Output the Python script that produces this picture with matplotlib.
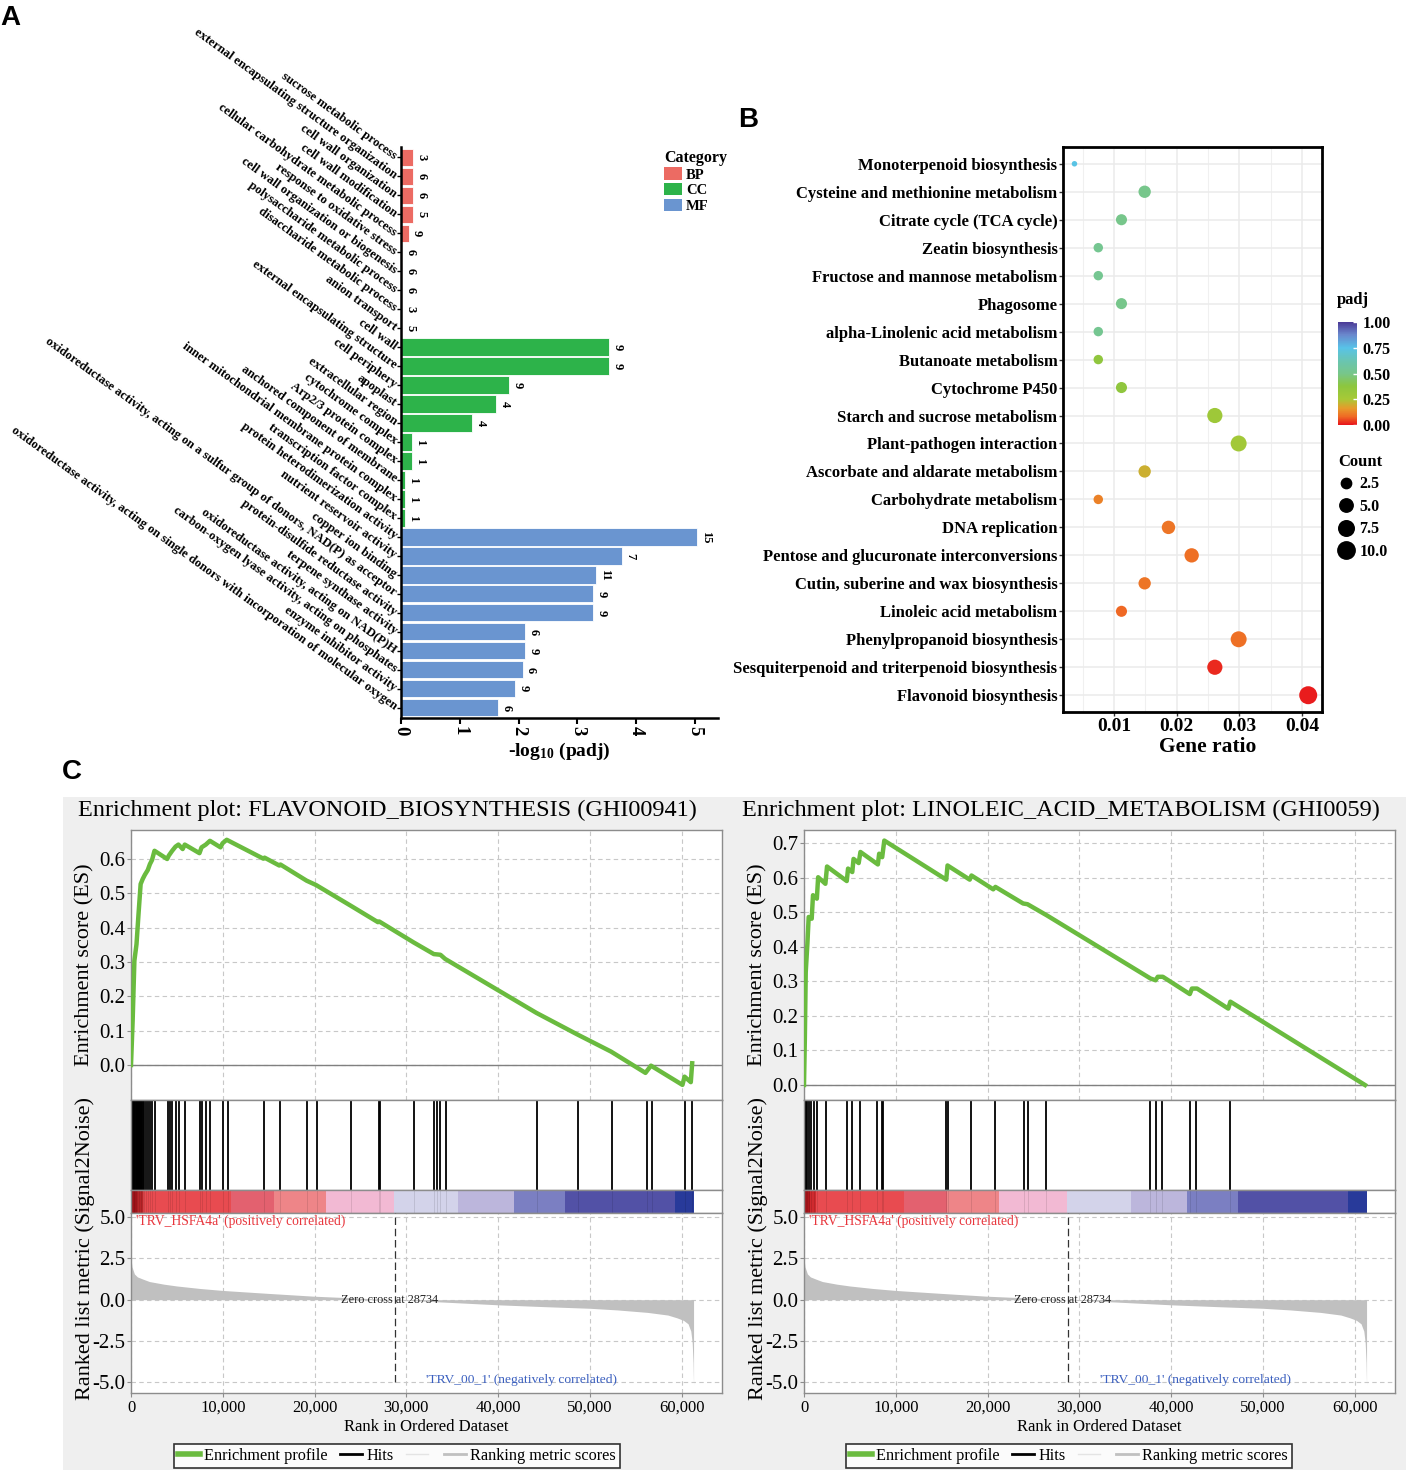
import matplotlib
matplotlib.use('Agg')
import matplotlib.pyplot as plt
import numpy as np
from matplotlib.patches import Patch, Rectangle
from matplotlib.lines import Line2D
from matplotlib.colors import LinearSegmentedColormap

W, H = 1406, 1472
plt.rcParams['font.family'] = ['Liberation Serif', 'DejaVu Serif']
plt.rcParams['mathtext.fontset'] = 'custom'
plt.rcParams['mathtext.rm'] = 'Liberation Serif:bold'
plt.rcParams['mathtext.default'] = 'rm'
plt.rcParams['axes.unicode_minus'] = False

# ---------------- data: panel A (GO enrichment) ----------------
bp_terms = ['sucrose metabolic process', 'external encapsulating structure organization',
            'cell wall organization', 'cell wall modification',
            'cellular carbohydrate metabolic process', 'response to oxidative stress',
            'cell wall organization or biogenesis', 'polysaccharide metabolic process',
            'disaccharide metabolic process', 'anion transport']
bp_logp = [0.21, 0.21, 0.21, 0.21, 0.13, 0.02, 0.02, 0.02, 0.02, 0.02]
bp_count = [3, 6, 6, 5, 9, 6, 6, 6, 3, 5]

cc_terms = ['cell wall', 'external encapsulating structure', 'cell periphery', 'apoplast',
            'extracellular region', 'cytochrome complex', 'Arp2/3 protein complex',
            'anchored component of membrane', 'inner mitochondrial membrane protein complex',
            'transcription factor complex']
cc_logp = [3.54, 3.54, 1.84, 1.62, 1.21, 0.18, 0.18, 0.07, 0.07, 0.07]
cc_count = [9, 9, 9, 4, 4, 1, 1, 1, 1, 1]

mf_terms = ['protein heterodimerization activity', 'nutrient reservoir activity',
            'copper ion binding',
            'oxidoreductase activity, acting on a sulfur group of donors, NAD(P) as acceptor',
            'protein-disulfide reductase activity', 'terpene synthase activity',
            'oxidoreductase activity, acting on NAD(P)H',
            'carbon-oxygen lyase activity, acting on phosphates',
            'enzyme inhibitor activity',
            'oxidoreductase activity, acting on single donors with incorporation of molecular oxygen']
mf_logp = [5.04, 3.75, 3.32, 3.27, 3.27, 2.11, 2.11, 2.07, 1.94, 1.65]
mf_count = [15, 7, 11, 9, 9, 6, 9, 6, 9, 6]

categories = ['BP', 'CC', 'MF']
cat_colors = {'BP': '#ec6b63', 'CC': '#2db34a', 'MF': '#6a95d0'}

# ---------------- data: panel B (KEGG dot plot) ----------------
kegg_terms = ['Monoterpenoid biosynthesis', 'Cysteine and methionine metabolism',
              'Citrate cycle (TCA cycle)', 'Zeatin biosynthesis',
              'Fructose and mannose metabolism', 'Phagosome',
              'alpha-Linolenic acid metabolism', 'Butanoate metabolism', 'Cytochrome P450',
              'Starch and sucrose metabolism', 'Plant-pathogen interaction',
              'Ascorbate and aldarate metabolism', 'Carbohydrate metabolism', 'DNA replication',
              'Pentose and glucuronate interconversions', 'Cutin, suberine and wax biosynthesis',
              'Linoleic acid metabolism', 'Phenylpropanoid biosynthesis',
              'Sesquiterpenoid and triterpenoid biosynthesis', 'Flavonoid biosynthesis']
gene_ratio = [0.0037, 0.0149, 0.0112, 0.0075, 0.0075, 0.0112, 0.0075, 0.0075, 0.0112, 0.0261,
              0.0299, 0.0149, 0.0075, 0.0187, 0.0224, 0.0149, 0.0112, 0.0299, 0.0261, 0.0410]
kegg_count = [1, 4, 3, 2, 2, 3, 2, 2, 3, 7, 8, 4, 2, 5, 6, 4, 3, 8, 7, 11]
kegg_padj = [0.74, 0.50, 0.50, 0.52, 0.52, 0.50, 0.52, 0.36, 0.36, 0.30,
             0.28, 0.20, 0.12, 0.10, 0.09, 0.10, 0.08, 0.09, 0.02, 0.01]
count_legend = [2.5, 5.0, 7.5, 10.0]

# ---------------- data: panel C (GSEA) ----------------
flav_es_rank = [0, 180, 370, 600, 820, 1050, 1280, 1510, 1830, 2060, 2290, 2560, 3940, 4120,
                4490, 4850, 5170, 5630, 5860, 7460, 7690, 8150, 8600, 9750, 9980, 10430, 14420,
                14550, 16160, 16280, 19130, 20180, 23940, 26910, 27050, 30800, 33000, 33390,
                33720, 34230, 44160, 48560, 52310, 56060, 56660, 60090, 60320, 61000, 61150]
flav_es = [0.0, 0.129, 0.304, 0.352, 0.44, 0.527, 0.542, 0.554, 0.568, 0.585, 0.597, 0.624,
           0.600, 0.61, 0.624, 0.636, 0.642, 0.629, 0.642, 0.617, 0.634, 0.642, 0.653, 0.634,
           0.646, 0.656, 0.601, 0.604, 0.581, 0.584, 0.537, 0.524, 0.464, 0.416, 0.418, 0.357,
           0.323, 0.322, 0.321, 0.309, 0.152, 0.09, 0.039, -0.023, -0.002, -0.058, -0.034,
           -0.05, 0.005]
flav_hits = [40, 120, 200, 280, 370, 450, 530, 600, 680, 760, 830, 900, 980, 1050, 1130, 1200,
             1280, 1420, 1600, 1830, 2060, 2290, 2570, 4040, 4270, 4500, 4860, 5180, 5870,
             7480, 7710, 8170, 8620, 10000, 10550, 14450, 16280, 19170, 20230, 24000, 26970,
             27110, 30870, 33070, 33390, 33720, 34310, 44270, 48670, 52430, 56240, 56790,
             60370, 61150]

lin_es_rank = [0, 90, 190, 370, 510, 840, 980, 1400, 1540, 2330, 2510, 4660, 4800, 5260, 5400,
               5960, 6150, 8050, 8190, 8520, 8750, 15500, 15640, 18060, 18250, 20620, 20860,
               23880, 24350, 26440, 37760, 38310, 38550, 39100, 42040, 42270, 42830, 46230,
               46460, 61130]
lin_es = [0.0, 0.13, 0.327, 0.409, 0.486, 0.481, 0.549, 0.539, 0.601, 0.582, 0.632, 0.59,
          0.626, 0.616, 0.654, 0.642, 0.674, 0.638, 0.669, 0.659, 0.707, 0.594, 0.635, 0.594,
          0.606, 0.566, 0.573, 0.525, 0.523, 0.491, 0.308, 0.303, 0.313, 0.313, 0.263, 0.279,
          0.279, 0.221, 0.241, 0.0]
lin_hits = [47, 140, 233, 372, 512, 745, 1071, 1397, 2374, 4702, 5261, 6052, 7961, 8520, 8659,
            15503, 15642, 18203, 20857, 23976, 24395, 26397, 37756, 38408, 38966, 42039,
            42737, 46462]

metric_rank = [0, 100, 370, 700, 1280, 2000, 3580, 5000, 7500, 10000, 15000, 20000, 25000,
               28734, 35000, 40000, 45000, 50000, 53000, 56300, 58500, 59500, 60200, 60700,
               61000, 61150, 61250, 61300]
metric_val = [2.6, 2.0, 1.56, 1.38, 1.25, 1.1, 0.94, 0.83, 0.68, 0.56, 0.38, 0.21, 0.09, 0.0,
              -0.17, -0.31, -0.42, -0.52, -0.62, -0.77, -0.93, -1.1, -1.25, -1.46, -1.9,
              -2.6, -3.8, -5.2]
bar_edges = [0, 600, 1300, 10900, 15600, 21300, 28700, 35600, 41700, 47300, 59300, 61300]
bar_colors = ['#b0161c', '#cf2a2e', '#e84b50', '#e3616f', '#ee8588', '#f2b9d3', '#d3d3ea',
              '#bcb6dc', '#7b7fc2', '#5251a6', '#283a9a']
zero_cross = 28734
rank_ticks = [0, 10000, 20000, 30000, 40000, 50000, 60000]
rank_labels = ['0', '10,000', '20,000', '30,000', '40,000', '50,000', '60,000']


def box(l, t, r, b):
    return [l / W, 1 - b / H, (r - l) / W, (b - t) / H]


fig = plt.figure(figsize=(W / 100, H / 100), dpi=100)

# ================= Panel A =================
axA = fig.add_axes(box(401, 147, 718, 718))
go_terms = bp_terms + cc_terms + mf_terms
go_vals = bp_logp + cc_logp + mf_logp
go_counts = bp_count + cc_count + mf_count
go_cols = ([cat_colors['BP']] * len(bp_terms) + [cat_colors['CC']] * len(cc_terms)
           + [cat_colors['MF']] * len(mf_terms))
ypos = np.arange(len(go_terms))
axA.barh(ypos, go_vals, height=0.92, color=go_cols, edgecolor='white', linewidth=0.6)
for y, v, c in zip(ypos, go_vals, go_counts):
    axA.text(v + 0.04, y, str(c), rotation=270, ha='left', va='center',
             fontsize=9, fontweight='bold')
axA.set_ylim(len(go_terms) - 0.45, -0.55)
axA.set_xlim(0, 5.39)
axA.set_yticks(ypos)
axA.set_yticklabels(go_terms, rotation=-36, rotation_mode='anchor', ha='right', va='center',
                    fontsize=9.2, fontweight='bold')
axA.set_xticks(range(6))
axA.set_xticklabels([str(i) for i in range(6)], rotation=270, fontsize=13.5, fontweight='bold')
for s in ['top', 'right']:
    axA.spines[s].set_visible(False)
for s in ['left', 'bottom']:
    axA.spines[s].set_linewidth(1.8)
axA.tick_params(axis='y', length=3, width=1, pad=1)
axA.tick_params(axis='x', length=4, width=1.5, pad=2)
axA.set_xlabel('-log$_{10}$ (padj)', fontsize=14, fontweight='bold', labelpad=4)
handles = [Patch(facecolor=cat_colors[k], edgecolor='none') for k in categories]
legA = axA.legend(handles, categories, title='Category', loc='upper left',
                  bbox_to_anchor=(664 / W, 1 - 150 / H), bbox_transform=fig.transFigure,
                  frameon=False, prop={'weight': 'bold', 'size': 10.5},
                  title_fontproperties={'weight': 'bold', 'size': 11.5},
                  handlelength=1.2, handleheight=0.9, handletextpad=0.3, labelspacing=0.1,
                  borderaxespad=0, borderpad=0)
legA._legend_box.align = 'left'

# ================= Panel B =================
padj_cmap = LinearSegmentedColormap.from_list('padj', [
    (0.0, '#e8141c'), (0.08, '#ef6a24'), (0.16, '#e79a2b'), (0.25, '#a8c936'),
    (0.38, '#8cc63f'), (0.5, '#77c68a'), (0.62, '#6ac5b0'), (0.75, '#58c3e8'),
    (0.88, '#6a86cc'), (1.0, '#4b3a96')])


def dot_px(c):
    return 5.5 + 12.5 * np.sqrt((np.asarray(c, dtype=float) - 1) / 10)


axB = fig.add_axes(box(1063, 147, 1322, 712))
yk = np.arange(len(kegg_terms))
sc = axB.scatter(gene_ratio, yk, s=(dot_px(kegg_count) * 0.72) ** 2, c=kegg_padj,
                 cmap=padj_cmap, vmin=0, vmax=1, edgecolors='none', zorder=3)
axB.set_ylim(len(kegg_terms) - 0.4, -0.6)
axB.set_xlim(0.00187, 0.0432)
axB.set_yticks(yk)
axB.set_yticklabels(kegg_terms, fontsize=12, fontweight='bold')
axB.set_xticks([0.01, 0.02, 0.03, 0.04])
axB.set_xticklabels(['0.01', '0.02', '0.03', '0.04'], fontsize=14, fontweight='bold')
axB.set_xticks([0.005, 0.015, 0.025, 0.035], minor=True)
axB.grid(which='major', color='#ebebeb', lw=1.1)
axB.grid(which='minor', axis='x', color='#f0f0f0', lw=0.8)
axB.set_axisbelow(True)
axB.tick_params(which='minor', length=0)
axB.tick_params(which='major', length=3, width=1, color='#333333', pad=1)
for s in axB.spines.values():
    s.set_linewidth(2)
axB.set_xlabel('Gene ratio', fontsize=15.5, fontweight='bold', labelpad=5)
axB.xaxis.set_label_coords(0.56, -0.045)
axB.xaxis.label.set_va('top')

cax = fig.add_axes(box(1338, 322, 1357, 425))
cb = fig.colorbar(sc, cax=cax, ticks=[0, 0.25, 0.5, 0.75, 1.0])
cb.ax.set_yticklabels(['0.00', '0.25', '0.50', '0.75', '1.00'], fontsize=11.5, fontweight='bold')
cb.outline.set_visible(False)
cb.ax.tick_params(length=3, color='white', width=1, direction='in', pad=4)
fig.text(1337 / W, 1 - 300 / H, 'padj', ha='left', va='center', fontsize=12, fontweight='bold')

size_handles = [Line2D([], [], ls='', marker='o', color='black',
                       markersize=float(dot_px(v)) * 0.72) for v in count_legend]
legB = fig.legend(size_handles, ['%.1f' % v for v in count_legend], title='Count',
                  loc='upper left', bbox_to_anchor=(1338 / W, 1 - 454 / H), frameon=False,
                  prop={'weight': 'bold', 'size': 11.5},
                  title_fontproperties={'weight': 'bold', 'size': 12},
                  handlelength=1.0, handletextpad=0.35, labelspacing=0.4,
                  borderaxespad=0, borderpad=0)
legB._legend_box.align = 'left'

# ================= Panel C =================
fig.add_artist(Rectangle((63 / W, 1 - 1470 / H), (W - 63) / W, (1470 - 797) / H,
                         transform=fig.transFigure, facecolor='#efefef', edgecolor='none',
                         zorder=-10))

es_green = '#6abb3f'
grid_kw = dict(color='#c8c8c8', lw=0.8, ls=(0, (4, 3)))
rank_max = 64400


def style_spines(ax):
    for s in ax.spines.values():
        s.set_color('#8c8c8c')
        s.set_linewidth(1.0)


def gsea_panel(left, title, es_rank, es_val, hits, es_lim, es_ticks, legend_x):
    right = left + 591
    ax_es = fig.add_axes(box(left, 830, right, 1100))
    ax_hit = fig.add_axes(box(left, 1100, right, 1190))
    ax_bar = fig.add_axes(box(left, 1190, right, 1213))
    ax_m = fig.add_axes(box(left, 1213, right, 1393))

    # enrichment score
    ax_es.plot(es_rank, es_val, color=es_green, lw=3.2, solid_joinstyle='round', zorder=3)
    ax_es.axhline(0, color='#808080', lw=1.0, zorder=2)
    ax_es.set_xlim(0, rank_max)
    ax_es.set_ylim(*es_lim)
    ax_es.set_yticks(es_ticks)
    ax_es.set_yticklabels(['%.1f' % t for t in es_ticks], fontsize=15)
    ax_es.set_xticks(rank_ticks)
    ax_es.tick_params(axis='x', length=0, labelbottom=False)
    ax_es.tick_params(axis='y', length=3, color='#8c8c8c', pad=1)
    ax_es.grid(True, **grid_kw)
    style_spines(ax_es)

    # hits
    ax_hit.vlines(hits, 0, 1, color='black', lw=1.3)
    ax_hit.set_xlim(0, rank_max)
    ax_hit.set_ylim(0, 1)
    ax_hit.set_xticks([])
    ax_hit.set_yticks([])
    style_spines(ax_hit)

    # ranking colour bar
    for i, col in enumerate(bar_colors):
        ax_bar.axvspan(bar_edges[i], bar_edges[i + 1], color=col, lw=0)
    ax_bar.vlines(hits, 0, 1, color='black', lw=0.6, alpha=0.12)
    ax_bar.set_xlim(0, rank_max)
    ax_bar.set_ylim(0, 1)
    ax_bar.set_xticks([])
    ax_bar.set_yticks([])
    style_spines(ax_bar)

    # ranked list metric
    ax_m.fill_between(metric_rank, metric_val, 0, color='#c0c0c0', lw=0, zorder=2)
    ax_m.vlines(zero_cross, -5.0, 5.25, color='#333333', lw=0.9, ls=(0, (6, 3)), zorder=3)
    ax_m.text(zero_cross - 600, 0, 'Zero cross at %d' % zero_cross, ha='center', va='center',
              fontsize=8.8, color='#222222', zorder=4)
    ax_m.text(500, 4.75, "'TRV_HSFA4a' (positively correlated)", ha='left', va='center',
              fontsize=9.8, color='#e8363d', zorder=4)
    ax_m.text(32200, -4.85, "'TRV_00_1' (negatively correlated)", ha='left', va='center',
              fontsize=9.7, color='#3a5fbf', zorder=4)
    ax_m.set_xlim(0, rank_max)
    ax_m.set_ylim(-5.65, 5.25)
    ax_m.set_yticks([5.0, 2.5, 0.0, -2.5, -5.0])
    ax_m.set_yticklabels(['5.0', '2.5', '0.0', '-2.5', '-5.0'], fontsize=15)
    ax_m.set_xticks(rank_ticks)
    ax_m.set_xticklabels(rank_labels, fontsize=12)
    ax_m.tick_params(axis='y', length=3, color='#8c8c8c', pad=1)
    ax_m.tick_params(axis='x', length=3, color='#8c8c8c', pad=2)
    ax_m.grid(True, **grid_kw)
    style_spines(ax_m)
    ax_m.set_xlabel('Rank in Ordered Dataset', fontsize=12, labelpad=2)

    leg_handles = [Line2D([], [], color=es_green, lw=4), Line2D([], [], color='black', lw=2),
                   Line2D([], [], color='#e4e4e4', lw=1), Line2D([], [], color='#c0c0c0', lw=2)]
    leg = ax_m.legend(leg_handles, ['Enrichment profile', 'Hits', '', 'Ranking metric scores'],
                      loc='center', bbox_to_anchor=(legend_x / W, 1 - 1456 / H),
                      bbox_transform=fig.transFigure, ncol=4, fontsize=11.7, frameon=True,
                      fancybox=False, edgecolor='black', handlelength=1.35, handletextpad=0.25,
                      columnspacing=0.75, borderpad=0.25)
    leg.get_frame().set_linewidth(1.2)

    cx = (left + right) / 2
    fig.text((cx - 39) / W, 1 - 810 / H, title, ha='center', va='center', fontsize=17.5)
    fig.text((left - 46) / W, 1 - 965 / H, 'Enrichment score (ES)', rotation=90,
             ha='center', va='center', fontsize=16)
    fig.text((left - 46) / W, 1 - 1248 / H, 'Ranked list metric (Signal2Noise)', rotation=90,
             ha='center', va='center', fontsize=16)


gsea_panel(131, 'Enrichment plot: FLAVONOID_BIOSYNTHESIS (GHI00941)', flav_es_rank, flav_es,
           flav_hits, (-0.102, 0.6845), [0.0, 0.1, 0.2, 0.3, 0.4, 0.5, 0.6], 397)
gsea_panel(804, 'Enrichment plot: LINOLEIC_ACID_METABOLISM (GHI0059)', lin_es_rank, lin_es,
           lin_hits, (-0.0434, 0.7376), [0.0, 0.1, 0.2, 0.3, 0.4, 0.5, 0.6, 0.7], 1069)

# panel letters
for x, y, t in [(0, 18, 'A'), (738, 120, 'B'), (62, 772, 'C')]:
    fig.text(x / W, 1 - y / H, t, ha='left', va='center', fontsize=20, fontweight='bold',
             family=['Liberation Sans', 'DejaVu Sans'])

fig.savefig('out.png', dpi=100)
